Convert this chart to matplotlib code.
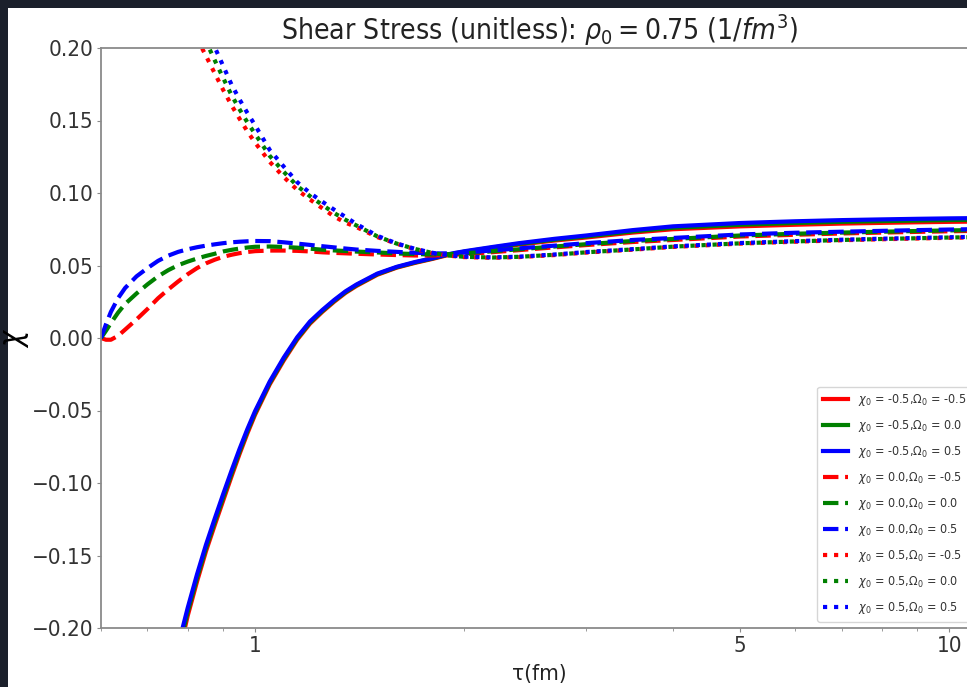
#!/usr/bin/env python3

import numpy as np
import matplotlib
matplotlib.use("Agg")
import matplotlib.pyplot as plt
from matplotlib import font_manager
from matplotlib.patches import Rectangle
from matplotlib.ticker import FixedLocator, NullFormatter

# tau grid (fm) and chi values
tau = [0.6, 0.61, 0.62, 0.635, 0.65, 0.675, 0.7, 0.725, 0.75, 0.775,
       0.8, 0.825, 0.85, 0.875, 0.9, 0.925, 0.95, 0.975, 1.0, 1.05,
       1.1, 1.15, 1.2, 1.25, 1.3, 1.35, 1.4, 1.5, 1.6, 1.7,
       1.8, 1.9, 2.0, 2.2, 2.4, 2.7, 3.0, 3.5, 4.0, 5.0,
       6.0, 7.0, 8.0, 9.0, 10.0, 11.0]

# chi0 = -0.5 (solid)
solid_red = [-0.60, -0.57, -0.54, -0.50, -0.46, -0.39, -0.34, -0.29, -0.253, -0.220,
             -0.1915, -0.168, -0.147, -0.129, -0.112, -0.0955, -0.080, -0.0658, -0.053, -0.032,
             -0.0155, -0.0012, 0.0099, 0.018, 0.025, 0.0311, 0.0359, 0.0436, 0.0485, 0.0518,
             0.0545, 0.0573, 0.0592, 0.0620, 0.0644, 0.0672, 0.0693, 0.0727, 0.0750, 0.0770,
             0.0781, 0.0789, 0.0794, 0.0798, 0.0801, 0.0803]
solid_green = [-0.585, -0.555, -0.525, -0.485, -0.445, -0.38, -0.33, -0.283, -0.247, -0.216,
               -0.1888, -0.1655, -0.1448, -0.1268, -0.1098, -0.0935, -0.0783, -0.0643, -0.0518, -0.031,
               -0.0145, -0.0004, 0.0106, 0.0186, 0.0256, 0.0316, 0.0364, 0.0440, 0.0488, 0.0521,
               0.0548, 0.0576, 0.0595, 0.0624, 0.0649, 0.0678, 0.0700, 0.0735, 0.0760, 0.0781,
               0.0793, 0.0801, 0.0806, 0.0810, 0.0813, 0.0815]
solid_blue = [-0.57, -0.54, -0.51, -0.47, -0.43, -0.37, -0.32, -0.275, -0.24, -0.212,
              -0.186, -0.163, -0.1425, -0.1245, -0.1075, -0.0915, -0.0765, -0.0628, -0.0505, -0.030,
              -0.0135, 0.0005, 0.0114, 0.0193, 0.0262, 0.0322, 0.0369, 0.0444, 0.0491, 0.0524,
              0.0550, 0.0578, 0.0598, 0.0628, 0.0654, 0.0684, 0.0707, 0.0744, 0.0770, 0.0793,
              0.0805, 0.0813, 0.0818, 0.0822, 0.0825, 0.0827]

# chi0 = 0.0 (dashed)
dash_red = [0.0, -0.0012, -0.0012, 0.0015, 0.0058, 0.0128, 0.0200, 0.0274, 0.0335, 0.0390,
            0.0440, 0.0482, 0.0515, 0.0540, 0.0560, 0.0574, 0.0585, 0.0593, 0.0599, 0.0603,
            0.0603, 0.0601, 0.0597, 0.0591, 0.0587, 0.0584, 0.0581, 0.0576, 0.0572, 0.0569,
            0.0569, 0.0572, 0.0578, 0.0592, 0.0606, 0.0625, 0.0641, 0.0662, 0.0676, 0.0700,
            0.0712, 0.0721, 0.0727, 0.0732, 0.0736, 0.0739]
dash_green = [0.0, 0.0050, 0.0103, 0.0175, 0.0235, 0.0307, 0.0370, 0.0425, 0.0468, 0.0502,
              0.0527, 0.0548, 0.0566, 0.0581, 0.0597, 0.0608, 0.0617, 0.0624, 0.0629, 0.0631,
              0.0628, 0.0623, 0.0616, 0.0609, 0.0604, 0.0600, 0.0596, 0.0590, 0.0583, 0.0579,
              0.0576, 0.0578, 0.0584, 0.0598, 0.0612, 0.0631, 0.0647, 0.0669, 0.0683, 0.0707,
              0.0719, 0.0727, 0.0733, 0.0738, 0.0742, 0.0745]
dash_blue = [0.0, 0.0095, 0.0180, 0.0275, 0.0345, 0.0425, 0.0482, 0.0532, 0.0568, 0.0594,
             0.0612, 0.0626, 0.0637, 0.0646, 0.0654, 0.0660, 0.0664, 0.0667, 0.0669, 0.0668,
             0.0660, 0.0651, 0.0642, 0.0633, 0.0625, 0.0617, 0.0610, 0.0601, 0.0594, 0.0588,
             0.0583, 0.0584, 0.0589, 0.0604, 0.0618, 0.0637, 0.0654, 0.0676, 0.0690, 0.0714,
             0.0726, 0.0733, 0.0739, 0.0744, 0.0748, 0.0751]

# chi0 = 0.5 (dotted)
dot_red = [0.43, 0.41, 0.395, 0.37, 0.35, 0.318, 0.292, 0.27, 0.25, 0.233,
           0.219, 0.2065, 0.1945, 0.1825, 0.171, 0.1605, 0.1512, 0.1425, 0.1348, 0.1215,
           0.111, 0.1022, 0.0955, 0.0895, 0.0838, 0.0795, 0.0765, 0.0696, 0.0650, 0.0612,
           0.0585, 0.0568, 0.0558, 0.0553, 0.0558, 0.0572, 0.0589, 0.0609, 0.0628, 0.0651,
           0.0664, 0.0674, 0.0681, 0.0686, 0.0691, 0.0694]
dot_green = [0.50, 0.48, 0.46, 0.43, 0.40, 0.36, 0.325, 0.295, 0.27, 0.25,
             0.234, 0.2185, 0.2045, 0.1915, 0.1792, 0.1675, 0.1577, 0.1487, 0.1408, 0.1256,
             0.1146, 0.1049, 0.0978, 0.0918, 0.0862, 0.0815, 0.0776, 0.0701, 0.0651, 0.0614,
             0.0587, 0.0569, 0.0560, 0.0555, 0.0560, 0.0574, 0.0591, 0.0611, 0.0630, 0.0653,
             0.0666, 0.0676, 0.0683, 0.0688, 0.0693, 0.0696]
dot_blue = [0.58, 0.55, 0.52, 0.48, 0.45, 0.40, 0.36, 0.325, 0.295, 0.27,
            0.251, 0.2305, 0.2145, 0.2005, 0.1875, 0.1748, 0.1645, 0.1552, 0.1468, 0.1297,
            0.1182, 0.1075, 0.1000, 0.0940, 0.0885, 0.0835, 0.0786, 0.0705, 0.0652, 0.0615,
            0.0588, 0.0570, 0.0561, 0.0556, 0.0561, 0.0576, 0.0593, 0.0613, 0.0632, 0.0655,
            0.0668, 0.0678, 0.0685, 0.0690, 0.0695, 0.0698]

chi0_vals = ["-0.5", "0.0", "0.5"]
omega0_vals = ["-0.5", "0.0", "0.5"]
colors = ["red", "green", "blue"]
styles = ["-", "--", ":"]
yticks = [-0.20, -0.15, -0.10, -0.05, 0.0, 0.05, 0.10, 0.15, 0.20]


def main():
    names = {f.name for f in font_manager.fontManager.ttflist}
    if "DejaVu Sans Condensed" in names:
        fam, stretch = "DejaVu Sans Condensed", "normal"
    else:
        fam, stretch = "DejaVu Sans", "condensed"
    plt.rcParams["font.family"] = [fam, "DejaVu Sans"]
    plt.rcParams["font.stretch"] = stretch
    plt.rcParams["mathtext.fontset"] = "custom"
    plt.rcParams["mathtext.rm"] = fam + ":stretch=" + stretch
    plt.rcParams["mathtext.it"] = fam + ":italic:stretch=" + stretch
    plt.rcParams["mathtext.bf"] = fam + ":bold:stretch=" + stretch

    fig = plt.figure(figsize=(9.67, 6.87), dpi=100, facecolor="#1b202b")
    fig.patches.append(Rectangle((8 / 967, 0), 1, 1 - 8 / 687, transform=fig.transFigure,
                                 facecolor="white", edgecolor="none", zorder=-10))
    ax = fig.add_axes([101 / 967, 59 / 687, 877 / 967, 580 / 687])

    series = [[solid_red, solid_green, solid_blue],
              [dash_red, dash_green, dash_blue],
              [dot_red, dot_green, dot_blue]]
    for i, group in enumerate(series):
        for j, ys in enumerate(group):
            ax.plot(tau, ys, color=colors[j], linestyle=styles[i], lw=3,
                    label=r"$\chi_0$ = %s,$\Omega_0$ = %s" % (chi0_vals[i], omega0_vals[j]))

    ax.set_xscale("log")
    ax.set_xlim(0.6, 11)
    ax.set_ylim(-0.2, 0.2)
    ax.xaxis.set_major_locator(FixedLocator([1, 5, 10]))
    ax.set_xticklabels(["1", "5", "10"])
    ax.xaxis.set_minor_locator(FixedLocator([0.6, 0.7, 0.8, 0.9, 2, 3, 4, 6, 7, 8, 9]))
    ax.xaxis.set_minor_formatter(NullFormatter())
    ax.set_yticks(yticks)
    ax.set_yticklabels([("%.2f" % v) if v >= 0 else "\u2212%.2f" % abs(v) for v in yticks])

    for sp in ax.spines.values():
        sp.set_color("#8a8a8a")
        sp.set_linewidth(1.3)
    ax.tick_params(which="both", colors="#8a8a8a", labelcolor="#333333", labelsize=16)
    ax.tick_params(which="major", length=3, pad=2.5)
    ax.tick_params(which="minor", length=2)

    ax.set_title(r"Shear Stress (unitless): $\rho_0 = 0.75$ $(1/fm^3)$",
                 fontsize=20.3, color="#222222", pad=4)
    ax.set_xlabel("\u03c4(fm)", fontsize=16, color="#222222", labelpad=6)
    ax.set_ylabel(r"$\chi$", fontsize=22, color="black")
    ax.yaxis.set_label_coords(-0.08, 0.5)

    leg = ax.legend(loc="lower right", fontsize=9, handlelength=2.0,
                    labelspacing=0.8, borderpad=0.45)
    leg.get_frame().set_edgecolor("#cccccc")
    for t in leg.get_texts():
        t.set_color("#333333")

    fig.savefig("out.png", dpi=100, facecolor=fig.get_facecolor())


if __name__ == "__main__":
    main()
